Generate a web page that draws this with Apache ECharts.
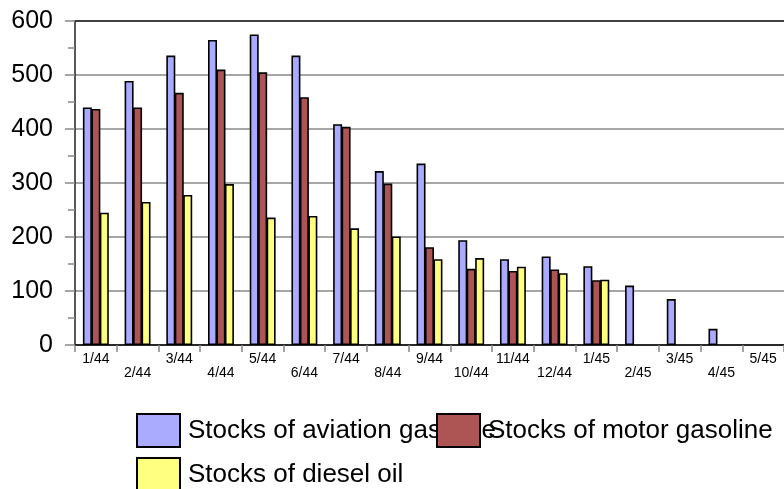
<!DOCTYPE html>
<html>
<head>
<meta charset="utf-8">
<script src="https://cdn.jsdelivr.net/npm/echarts@6/dist/echarts.min.js"></script>
<style>html,body{margin:0;padding:0;background:#fff}#c{width:784px;height:489px}</style>
</head>
<body>
<div id="c"></div>
<script>
const categories = ['1/44','2/44','3/44','4/44','5/44','6/44','7/44','8/44','9/44','10/44','11/44','12/44','1/45','2/45','3/45','4/45','5/45'];
const aviation = [440, 489, 536, 565, 575, 536, 409, 322, 336, 194, 159, 164, 146, 110, 85, 30, null];
const motor    = [437, 440, 467, 510, 505, 459, 404, 299, 181, 141, 137, 140, 120, null, null, null, null];
const diesel   = [245, 265, 278, 298, 236, 239, 216, 201, 159, 161, 145, 133, 121, null, null, null, null];
const seriesNames = ['Stocks of aviation gasoline', 'Stocks of motor gasoline', 'Stocks of diesel oil'];
const yTicks = [0, 100, 200, 300, 400, 500, 600];

const chart = echarts.init(document.getElementById('c'), null, {renderer: 'canvas'});
const font = 'Liberation Sans, Arial, sans-serif';
const barCommon = {
  type: 'bar',
  barWidth: 9,
  barGap: '-6%',
  itemStyle: {borderColor: '#000', borderWidth: 1.6}
};
const colors = ['#aaaaff', '#ad5555', '#ffff80'];
const legendBase = {
  icon: 'rect', itemWidth: 43, itemHeight: 33, orient: 'horizontal',
  selectedMode: false,
  textStyle: {fontFamily: font, fontSize: 26, color: '#000', padding: [0,0,0,3]}
};
chart.setOption({
  animation: false,
  grid: {left: 75, right: 0, top: 21, bottom: 144},
  legend: [
    Object.assign({}, legendBase, {data: [seriesNames[0]], left: 131, top: 408}),
    Object.assign({}, legendBase, {data: [seriesNames[1]], left: 431, top: 408, z: 5}),
    Object.assign({}, legendBase, {data: [seriesNames[2]], left: 131, top: 452})
  ],
  xAxis: {
    type: 'category',
    data: categories,
    axisLine: {lineStyle: {color: '#000', width: 1.5}},
    axisTick: {show: true, length: 7, lineStyle: {color: '#888', width: 1.5}},
    axisLabel: {
      interval: 0, margin: 7, fontFamily: font, fontSize: 14, color: '#000', lineHeight: 14,
      formatter: (v, i) => (i % 2 ? '\n' + v : v)
    }
  },
  yAxis: {
    type: 'value', min: yTicks[0], max: yTicks[yTicks.length - 1], interval: 100,
    axisLine: {show: true, lineStyle: {color: '#222', width: 1.5}},
    axisTick: {show: true, length: 10, lineStyle: {color: '#888', width: 1.5}},
    minorTick: {show: true, splitNumber: 2, length: 7, lineStyle: {color: '#888', width: 1.5}},
    splitLine: {show: true, lineStyle: {color: ['#888','#888','#888','#888','#888','#888','#000'], width: 1.5}},
    axisLabel: {margin: 22, fontFamily: font, fontSize: 25, color: '#000'}
  },
  series: [
    Object.assign({}, barCommon, {name: seriesNames[0], data: aviation, itemStyle: Object.assign({}, barCommon.itemStyle, {color: colors[0]})}),
    Object.assign({}, barCommon, {name: seriesNames[1], data: motor, itemStyle: Object.assign({}, barCommon.itemStyle, {color: colors[1]})}),
    Object.assign({}, barCommon, {name: seriesNames[2], data: diesel, itemStyle: Object.assign({}, barCommon.itemStyle, {color: colors[2]})})
  ]
});
</script>
</body>
</html>
